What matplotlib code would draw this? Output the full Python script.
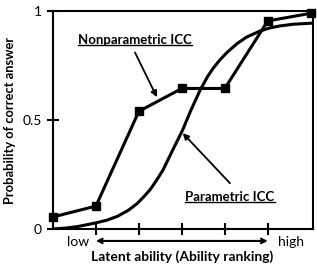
import matplotlib.pyplot as plt
from matplotlib.lines import Line2D

plt.rcParams['font.family'] = ['Lato', 'DejaVu Sans']

# nonparametric ICC (ability rank vs proportion correct)
np_x = [0, 1, 2, 3, 4, 5, 6]
np_y = [0.055, 0.105, 0.54, 0.645, 0.645, 0.955, 0.99]

# parametric ICC
par_x = [0, 0.3, 0.6, 1.0, 1.25, 1.5, 1.75, 1.95, 2.1, 2.26, 2.4, 2.56, 2.77, 3.02, 3.2,
         3.42, 3.6, 3.72, 3.88, 4.05, 4.28, 4.5, 4.81, 5.05, 5.28, 5.6, 6.05]
par_y = [0.0, 0.004, 0.012, 0.028, 0.04, 0.058, 0.085, 0.115, 0.145, 0.18, 0.22, 0.27, 0.355,
         0.455, 0.54, 0.635, 0.7, 0.735, 0.775, 0.81, 0.85, 0.88, 0.908, 0.923, 0.932, 0.94, 0.945]

yticks = [0, 0.5, 1]
ytick_labels = ['0', '0.5', '1']
xticks = [1, 2, 3, 4, 5]

fig = plt.figure(figsize=(3.17, 2.65), dpi=100)
ax = fig.add_axes([0.167, 0.136, 0.82, 0.822])

ax.plot(par_x, par_y, color='black', lw=2.2, solid_capstyle='round', solid_joinstyle='round')
ax.plot(np_x, np_y, color='black', lw=2.2, marker='s', markersize=5.5, clip_on=False)

ax.set_xlim(0, 6.05)
ax.set_ylim(0, 1)
for s in ax.spines.values():
    s.set_linewidth(1.5)

ax.set_yticks(yticks)
ax.set_yticklabels(ytick_labels, fontsize=10)
ax.set_xticks(xticks)
ax.set_xticklabels([])
ax.tick_params(axis='both', direction='inout', length=8, width=1.5, pad=7)
ax.tick_params(axis='y', pad=4)

ax.set_ylabel('Probability of correct answer', fontsize=9.3, fontweight='bold', labelpad=5)

# ability axis annotations
ax.annotate('', xy=(5, -0.055), xytext=(1, -0.055), annotation_clip=False,
            arrowprops=dict(arrowstyle='<->', lw=1.5, color='black', shrinkA=0, shrinkB=0,
                            mutation_scale=8))
ax.text(0.58, -0.06, 'low', fontsize=10, ha='center', va='center', clip_on=False)
ax.text(5.55, -0.06, 'high', fontsize=10, ha='center', va='center', clip_on=False)
ax.text(3.0, -0.125, 'Latent ability (Ability ranking)', fontsize=10, fontweight='bold',
        ha='center', va='center', clip_on=False)

# curve labels
t1 = ax.text(1.91, 0.867, 'Nonparametric ICC', fontsize=9.5, fontweight='bold', ha='center', va='center')
t2 = ax.text(4.12, 0.147, 'Parametric ICC', fontsize=9.5, fontweight='bold', ha='center', va='center')
ax.annotate('', xy=(2.42, 0.605), xytext=(1.91, 0.81),
            arrowprops=dict(arrowstyle='-|>', lw=1.3, color='black', shrinkA=0, shrinkB=0,
                            mutation_scale=9))
ax.annotate('', xy=(3.02, 0.44), xytext=(4.12, 0.21),
            arrowprops=dict(arrowstyle='-|>', lw=1.3, color='black', shrinkA=0, shrinkB=0,
                            mutation_scale=9))

# underline the labels
fig.canvas.draw()
r = fig.canvas.get_renderer()
for t in (t1, t2):
    bb = t.get_window_extent(r).transformed(fig.transFigure.inverted())
    fig.add_artist(Line2D([bb.x0, bb.x1], [bb.y0 + 0.003, bb.y0 + 0.003], color='black', lw=1,
                          transform=fig.transFigure))

fig.savefig('out.png', dpi=100)
